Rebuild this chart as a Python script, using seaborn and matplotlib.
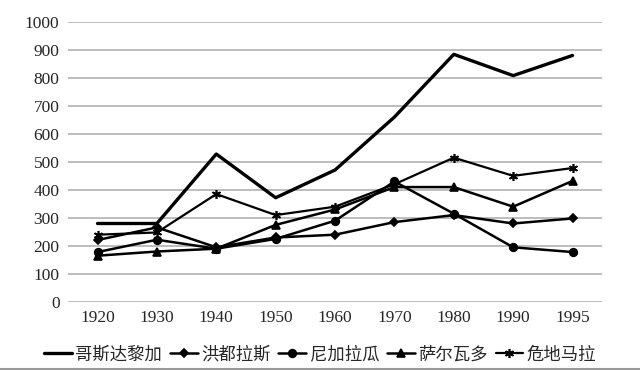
import pandas as pd
import matplotlib.pyplot as plt
import seaborn as sns
from matplotlib.lines import Line2D

years = ['1920', '1930', '1940', '1950', '1960', '1970', '1980', '1990', '1995']
costa_rica = [280, 280, 528, 372, 471, 660, 884, 808, 880]
honduras = [221, 266, 195, 230, 240, 285, 310, 280, 298]
nicaragua = [178, 222, 190, 225, 290, 430, 315, 195, 178]
el_salvador = [165, 180, 190, 275, 330, 410, 410, 340, 432]
guatemala = [240, 248, 385, 310, 340, 420, 515, 450, 478]

names = ['哥斯达黎加', '洪都拉斯', '尼加拉瓜', '萨尔瓦多', '危地马拉']
series = [costa_rica, honduras, nicaragua, el_salvador, guatemala]
markers = [None, 'D', 'o', '^', (6, 2, 0)]
msizes = [0, 4.5, 5.5, 6, 6.5]
widths = [2.4, 1.8, 1.8, 1.8, 1.6]

sns.set_style('white')
plt.rcParams['font.family'] = ['Liberation Serif', 'Noto Sans CJK SC', 'DejaVu Sans']

fig = plt.figure(figsize=(6.4, 3.7), dpi=100)
ax = fig.add_axes([0.106, 0.184, 0.835, 0.757])

pos = list(range(len(years)))
for name, vals, m, ms, lw in zip(names, series, markers, msizes, widths):
    df = pd.DataFrame({'x': pos, 'y': vals})
    sns.lineplot(data=df, x='x', y='y', ax=ax, color='black', linewidth=lw,
                 marker=m, markersize=ms, markeredgecolor='black',
                 markeredgewidth=1.2, label=name)

ax.set_xlim(-0.5, len(years) - 0.5)
ax.set_ylim(0, 1000)
ax.set_yticks(range(0, 1001, 100))
ax.set_xticks(pos)
ax.set_xticklabels(years)
ax.set_xlabel('')
ax.set_ylabel('')
ax.tick_params(axis='both', length=0, labelsize=12.5, pad=6)
ax.grid(axis='y', color='#b8b8b8', linewidth=1.3)
ax.set_axisbelow(True)
for s in ax.spines.values():
    s.set_visible(False)

ax.legend(loc='upper center', bbox_to_anchor=(0.472, -0.135), ncol=5,
          frameon=False, fontsize=12.5, handlelength=1.6, handletextpad=0.2,
          columnspacing=0.45, borderaxespad=0)

fig.add_artist(Line2D([0, 1], [0.004, 0.004], color='#999999', linewidth=1.5))

fig.savefig('out.png', dpi=100)
